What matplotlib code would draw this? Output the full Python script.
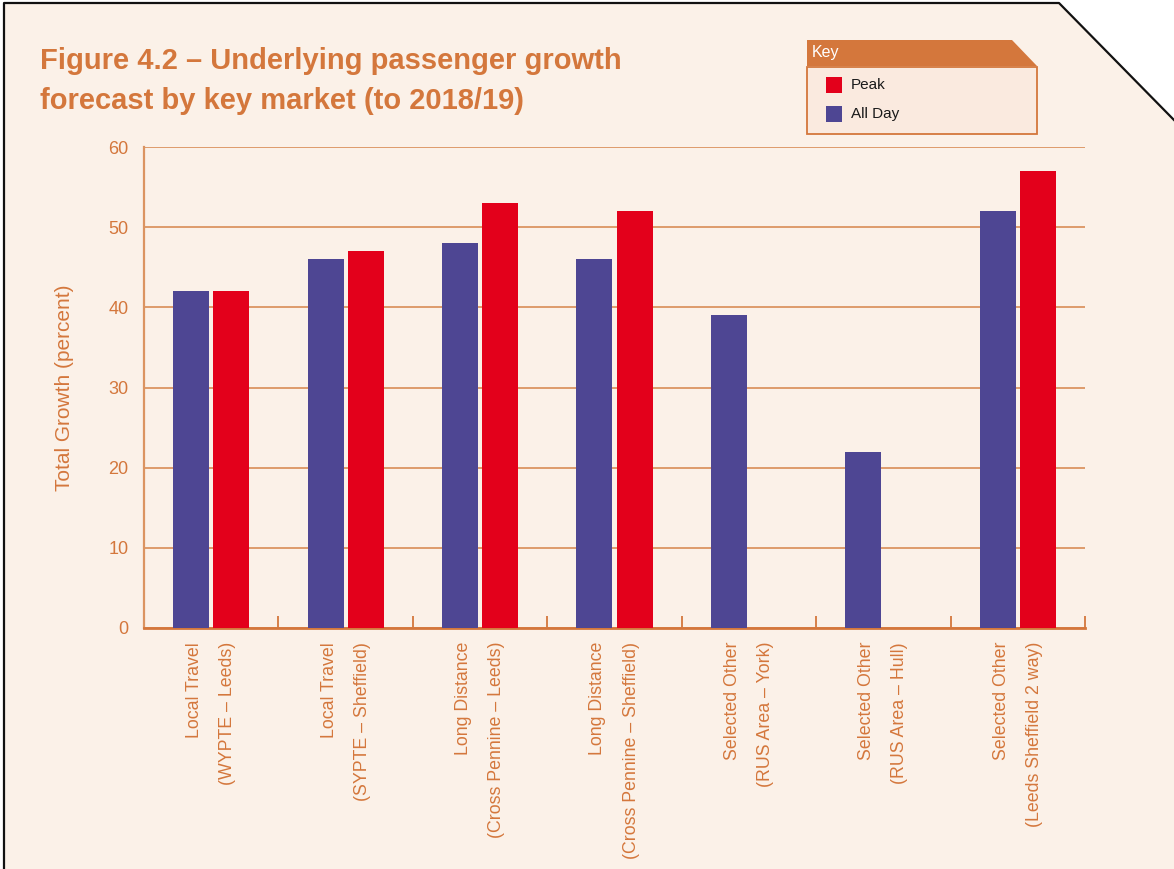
import matplotlib

matplotlib.use("Agg")
import matplotlib.pyplot as plt
import numpy as np
from matplotlib.patches import Polygon, Rectangle
from matplotlib.lines import Line2D

plt.rcParams["font.family"] = ["Liberation Sans", "DejaVu Sans"]

# ---- data ----
categories = [
    "Local Travel\n(WYPTE – Leeds)",
    "Local Travel\n(SYPTE – Sheffield)",
    "Long Distance\n(Cross Pennine – Leeds)",
    "Long Distance\n(Cross Pennine – Sheffield)",
    "Selected Other\n(RUS Area – York)",
    "Selected Other\n(RUS Area – Hull)",
    "Selected Other\n(Leeds Sheffield 2 way)",
]
all_day = [42, 46, 48, 46, 39, 22, 52]
peak = [42, 47, 53, 52, np.nan, np.nan, 57]
y_ticks = [0, 10, 20, 30, 40, 50, 60]

ORANGE = "#D4773C"
GRID = "#DB9461"
BG = "#FBF1E8"
BLUE = "#4E4693"
RED = "#E3001B"

W, H = 1174, 869
fig = plt.figure(figsize=(W / 100, H / 100), dpi=100)
fig.patch.set_facecolor("white")


def fx(px):
    return px / W


def fy(py):
    return 1 - py / H


# background panel with cut corner
panel = [(fx(4), fy(869)), (fx(4), fy(3)), (fx(1059), fy(3)),
         (fx(1174), fy(120)), (fx(1174), fy(869))]
fig.patches.append(Polygon(panel, closed=True, transform=fig.transFigure,
                           facecolor=BG, edgecolor="none", zorder=-5))
bx = [fx(4), fx(4), fx(1059), fx(1174)]
by = [fy(869), fy(3), fy(3), fy(120)]
fig.lines.append(Line2D(bx, by, transform=fig.transFigure, color="#111111", lw=1.6, zorder=-4))

# ---- axes ----
ax = fig.add_axes([fx(144), fy(628), fx(1085) - fx(144), fy(147) - fy(628)])
ax.set_zorder(5)
ax.set_facecolor("none")
x = np.arange(len(categories))
ax.bar(x - 0.149, all_day, width=0.268, color=BLUE, zorder=3)
ax.bar(x + 0.149, peak, width=0.268, color=RED, zorder=3)

ax.set_xlim(-0.5, len(categories) - 0.5)
ax.set_ylim(0, 60)
ax.set_yticks(y_ticks)
ax.yaxis.grid(True, color=GRID, lw=1.3, zorder=1)
ax.set_axisbelow(True)
ax.tick_params(axis="y", length=0, pad=11, labelsize=13, labelcolor=ORANGE)

ax.set_xticks(np.arange(len(categories) + 1) - 0.5)
ax.set_xticklabels([])
ax.tick_params(axis="x", which="major", direction="in", length=8.5, width=1.3, color=ORANGE)
ax.set_xticks(x, minor=True)
ax.set_xticklabels(categories, minor=True, rotation=90, ha="center", va="top",
                   multialignment="right", fontsize=12.8, color=ORANGE,
                   linespacing=2.25)
ax.tick_params(axis="x", which="minor", length=0, pad=10)

for s in ["top", "right"]:
    ax.spines[s].set_visible(False)
ax.spines["left"].set_color(GRID)
ax.spines["left"].set_linewidth(1.6)
ax.spines["bottom"].set_color(ORANGE)
ax.spines["bottom"].set_linewidth(2)

ax.set_ylabel("Total Growth (percent)", color=ORANGE, fontsize=15, labelpad=25)

# ---- title ----
fig.text(fx(40), fy(81), "Figure 4.2 – Underlying passenger growth\nforecast by key market (to 2018/19)",
         color=ORANGE, fontsize=21, fontweight="bold", ha="left", va="center",
         linespacing=1.55)

# ---- key box ----
hdr = [(fx(807), fy(66)), (fx(807), fy(40)), (fx(1012), fy(40)),
       (fx(1037), fy(66))]
fig.patches.append(Polygon(hdr, closed=True, transform=fig.transFigure,
                           facecolor=ORANGE, edgecolor="none", zorder=2))
fig.text(fx(812), fy(53), "Key", color="white", fontsize=11.5, ha="left", va="center")
fig.patches.append(Rectangle((fx(807), fy(134)), fx(1037) - fx(807), fy(67) - fy(134),
                             transform=fig.transFigure, facecolor="#FAEADF",
                             edgecolor=ORANGE, lw=1.3, zorder=2))
for label, col, yc in [("Peak", RED, 85), ("All Day", BLUE, 114)]:
    fig.patches.append(Rectangle((fx(826), fy(yc + 8)), fx(16), 16 / H,
                                 transform=fig.transFigure, facecolor=col,
                                 edgecolor="none", zorder=3))
    fig.text(fx(851), fy(yc), label, color="#1a1a1a", fontsize=11, ha="left", va="center")

fig.savefig("out.png", dpi=100, facecolor=fig.get_facecolor())
